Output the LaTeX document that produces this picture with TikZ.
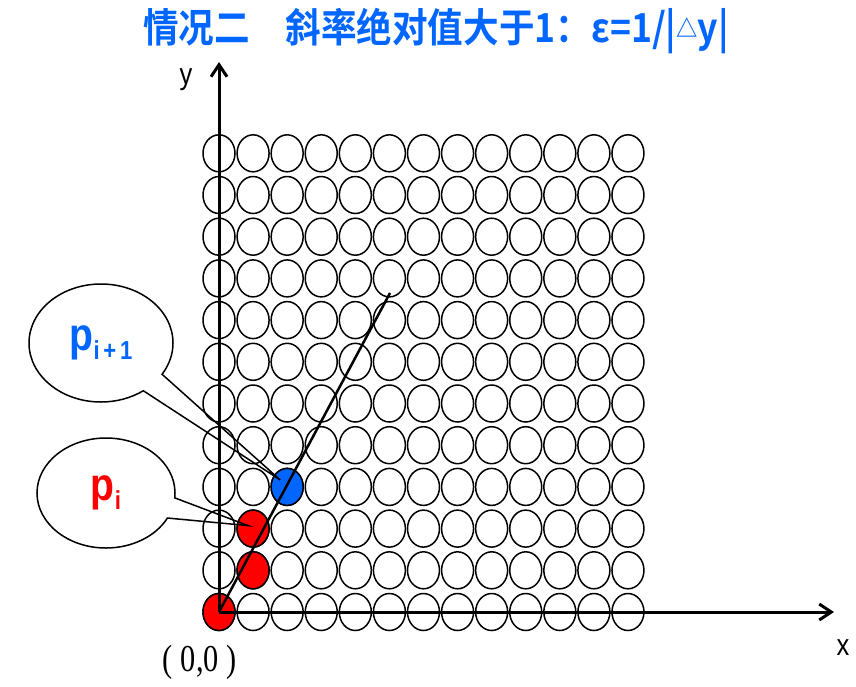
\documentclass[tikz,border=0pt]{standalone}
\usepackage{fontspec}
\usepackage{graphicx}
\usetikzlibrary{arrows.meta,shapes.geometric,shapes.callouts}
\newfontfamily\titlefont{Noto Sans CJK SC Bold}
\newfontfamily\labelfont{Liberation Sans}
\newfontfamily\numfont{Liberation Serif}
\definecolor{ptblue}{RGB}{0,102,255}
\definecolor{ptred}{RGB}{255,0,0}

\begin{document}
\begin{tikzpicture}[
    x=1pt, y=-1pt,
    dot/.style={
        ellipse,
        draw=black,
        line width=1.5pt,
        minimum width=32pt,
        minimum height=37pt,
        inner sep=0pt
    },
    axis/.style={line width=3pt, -{Straight Barb[length=12pt,width=16pt]}},
    bubble/.style={
        ellipse callout,
        draw=black,
        line width=1.5pt,
        callout pointer arc=22,
        inner sep=0pt
    },
    lbl/.style={font=\labelfont\fontsize{30}{30}\selectfont}
]
\useasboundingbox (0,0) rectangle (856,686);

\node[font=\titlefont\fontsize{40}{40}\selectfont, text=ptblue] (title) at (436,31)
    {\scalebox{0.89}[1]{情况二　斜率绝对值大于1：ε=1/|\raisebox{5pt}{\fontsize{24}{24}\selectfont △}y|}};

\foreach \i in {0,...,12}
  \foreach \j in {0,...,11}
    \node[dot] (c-\i-\j) at (219+34.08*\i, 612-41.7*\j) {};

\foreach \i/\j/\c in {0/0/ptred, 1/1/ptred, 1/2/ptred, 2/3/ptblue}
    \node[dot, fill=\c] (hit-\i-\j) at (c-\i-\j) {};

\coordinate (O) at (c-0-0.center);
\coordinate (ytip) at (219,62);
\coordinate (xtip) at (834,612);
\coordinate (lend) at (390,293);

\draw[axis] (O) -- (ytip);
\draw[axis] (O) -- (xtip);
\draw[line width=2.5pt] (O) -- (lend);

\node[bubble, minimum width=144pt, minimum height=118pt,
    callout absolute pointer={([shift={(-7,-7)}]hit-2-3.center)}] (bnext) at (101,343)
    {\color{ptblue}\labelfont\bfseries\fontsize{46}{46}\selectfont
     \scalebox{0.85}[1]{p\raisebox{-9pt}{\fontsize{26}{26}\selectfont i\,+\,1}}};
\node[bubble, minimum width=138pt, minimum height=110pt,
    callout absolute pointer={([shift={(-5,-3)}]hit-1-2.center)}] (bcur) at (106,493)
    {\color{ptred}\labelfont\bfseries\fontsize{46}{46}\selectfont
     \scalebox{0.85}[1]{p\raisebox{-9pt}{\fontsize{26}{26}\selectfont i}}};

\node[lbl] (ylab) at (186,80) {\scalebox{0.85}[1]{y}};
\node[lbl] (xlab) at (843,648) {\scalebox{0.85}[1]{x}};
\node[font=\numfont\fontsize{38}{38}\selectfont] (olab) at (200,662)
    {\scalebox{0.8}[1]{(\hspace{10pt}0,0\hspace{10pt})}};

\end{tikzpicture}
\end{document}
